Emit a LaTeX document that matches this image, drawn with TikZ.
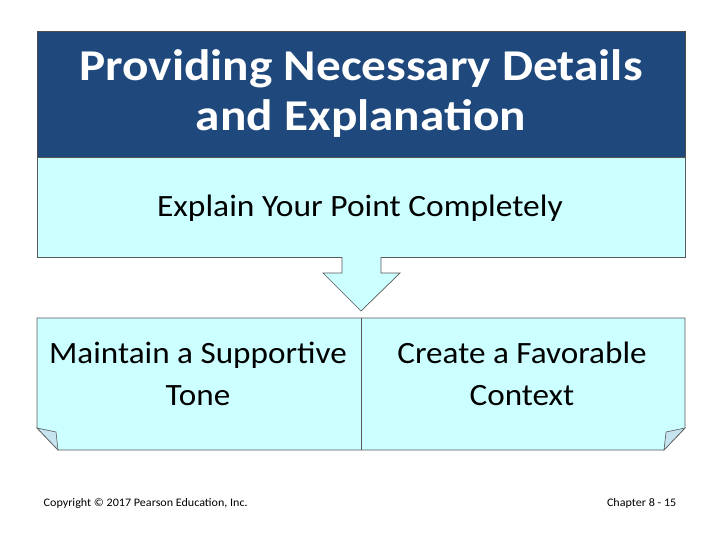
\documentclass[tikz,border=0pt]{standalone}
\usepackage{fontspec}
\setmainfont{Carlito}
\begin{document}
\begin{tikzpicture}[x=1pt,y=-1pt,
  lbox/.style={fill=cyanl,draw=gray!70!black,line width=0.7pt},
  fold/.style={fill=gray!40!cyan!30,draw=gray!70!black,line width=0.6pt}]
\definecolor{cyanl}{HTML}{CCFFFF}
\definecolor{navy}{HTML}{1F497D}
\useasboundingbox (0,0) rectangle (720,540);
\fill[white] (0,0) rectangle (720,540);
\draw[fill=navy,draw=gray!60!black] (37,31) rectangle (685,157);
\node[text=white,font=\bfseries\fontsize{44}{50}\selectfont,align=center,xscale=1.12] (title) at (361,94) {Providing Necessary Details\\and Explanation};
\draw[lbox] (37,157) rectangle (685,257);
\node[font=\fontsize{31}{36}\selectfont,xscale=1.08] (exp) at (360,208) {Explain Your Point Completely};
\draw[lbox] (342,257) -- (342,273) -- (323,273) -- (361,311) -- (400,273) -- (381,273) -- (381,257);
\draw[lbox] (37,318) -- (685,318) -- (685,428) -- (664,450) -- (58,450) -- (37,428) -- cycle;
\draw[fold] (37,428) -- (56,432) -- (58,450) -- cycle;
\draw[fold] (685,428) -- (666,432) -- (664,450) -- cycle;
\draw[gray!70!black,line width=0.7pt] (361,318) -- (361,450);
\node[font=\fontsize{31}{42}\selectfont,align=center,xscale=1.07] (l) at (198,374) {Maintain a Supportive\\Tone};
\node[font=\fontsize{31}{42}\selectfont,align=center,xscale=1.07] (r) at (522,374) {Create a Favorable\\Context};
\node[font=\fontsize{11.5}{13}\selectfont,anchor=west,xscale=1.05] (c) at (40,503) {Copyright © 2017 Pearson Education, Inc.};
\node[font=\fontsize{11.5}{13}\selectfont,anchor=east,xscale=1.05] (ch) at (680,503) {Chapter 8 - 15};
\end{tikzpicture}
\end{document}
